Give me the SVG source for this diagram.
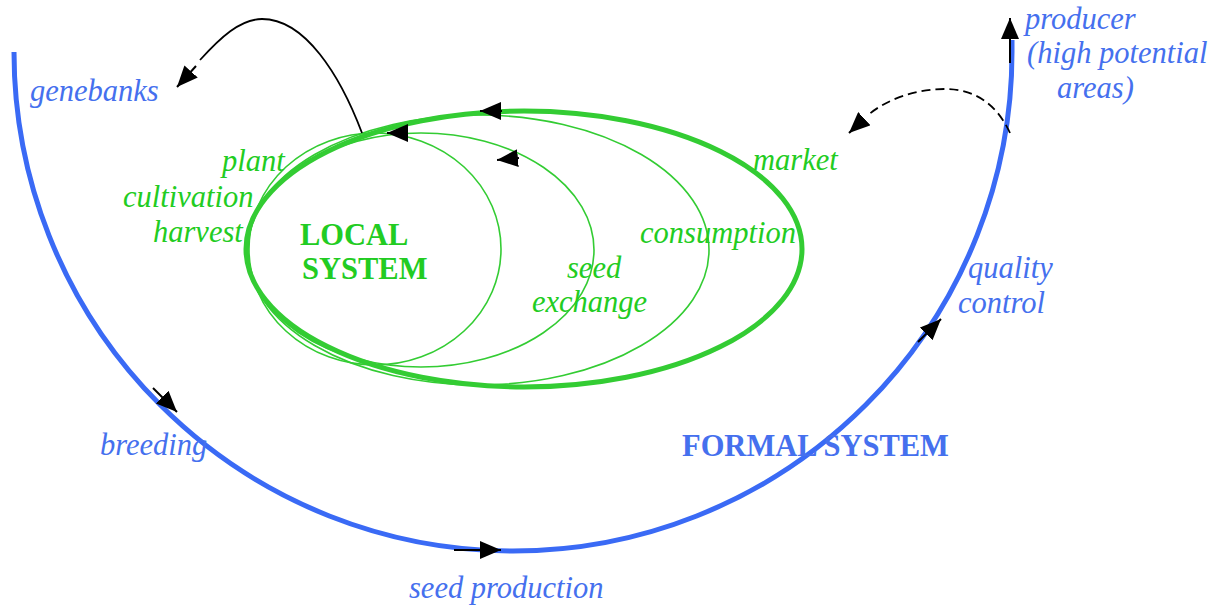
<svg xmlns="http://www.w3.org/2000/svg" width="1222" height="607" viewBox="0 0 1222 607">
  <style>
    .lbl { font-family: "Liberation Serif", "Times New Roman", serif; font-size: 30.5px; font-style: italic; }
    .ttl { font-family: "Liberation Serif", "Times New Roman", serif; font-size: 30.5px; font-weight: bold; }
    .blue { fill: #4570ee; }
    .green { fill: #22cc22; }
    .formal { fill: none; stroke: #3a6af5; stroke-width: 5; }
    .loop { fill: none; stroke: #33cc33; stroke-width: 1.6; }
    .loop-main { fill: none; stroke: #33cc33; stroke-width: 5; }
    .arr { fill: none; stroke: #000; stroke-width: 2; marker-end: url(#head); }
    .flow { fill: none; stroke: #000; stroke-width: 1.8; }
  </style>
  <defs>
    <marker id="head" viewBox="0 0 21 18" refX="21" refY="9" markerWidth="21" markerHeight="18" markerUnits="userSpaceOnUse" orient="auto">
      <path d="M0,0 L21,9 L0,18 z" fill="#000"/>
    </marker>
  </defs>

  <!-- formal system: large half ring -->
  <g id="formal-system">
    <path class="formal" d="M14,52 A499,499 0 0 0 1012,52 L1012,40"/>
    <text class="ttl blue" x="682" y="456">FORMAL SYSTEM</text>
  </g>

  <!-- local system: nested loops -->
  <g id="local-system">
    <ellipse class="loop" cx="375" cy="249" rx="126" ry="116"/>
    <ellipse class="loop" cx="421" cy="250" rx="173" ry="117"/>
    <ellipse class="loop" cx="478" cy="250" rx="231" ry="135"/>
    <ellipse class="loop-main" cx="524" cy="249" rx="278" ry="138"/>
    <text class="ttl green" x="300" y="245">LOCAL</text>
    <text class="ttl green" x="302" y="279">SYSTEM</text>
  </g>

  <g id="genebanks"><text class="lbl blue" x="30" y="101">genebanks</text></g>
  <g id="producer">
    <text class="lbl blue" x="1025" y="29">producer</text>
    <text class="lbl blue" x="1027" y="63">(high potential</text>
    <text class="lbl blue" x="1057" y="98">areas)</text>
  </g>
  <g id="quality-control">
    <text class="lbl blue" x="968" y="278">quality</text>
    <text class="lbl blue" x="958" y="313">control</text>
  </g>
  <g id="breeding"><text class="lbl blue" x="100" y="455">breeding</text></g>
  <g id="seed-production"><text class="lbl blue" x="409" y="598">seed production</text></g>

  <g id="plant"><text class="lbl green" x="222" y="171">plant</text></g>
  <g id="cultivation"><text class="lbl green" x="123" y="207">cultivation</text></g>
  <g id="harvest"><text class="lbl green" x="153" y="242">harvest</text></g>
  <g id="market"><text class="lbl green" x="753" y="170">market</text></g>
  <g id="consumption"><text class="lbl green" x="640" y="243">consumption</text></g>
  <g id="seed-exchange">
    <text class="lbl green" x="567" y="278">seed</text>
    <text class="lbl green" x="532" y="312">exchange</text>
  </g>

  <!-- connectors and direction marks -->
  <g id="connectors">
    <!-- direction along the formal ring -->
    <path class="arr" d="M153,388 L177,412"/>
    <path class="arr" d="M454,550 L501,550"/>
    <path class="arr" d="M918,342 L941,319"/>
    <path class="arr" d="M1010,63 L1010,18"/>
    <!-- direction along the local loops -->
    <path class="arr" d="M502,111 L480,111"/>
    <path class="arr" d="M408,133 L387,133"/>
    <path class="arr" d="M519,158 L497,160"/>
    <!-- local system to genebanks -->
    <path class="flow" d="M362,133 C340,75 305,19 262,19 C240,19 220,38 200,60"/>
    <path class="arr" d="M196,66 L177,87"/>
    <!-- formal system to market -->
    <path class="flow" d="M1010,133 C995,100 970,89 945,89 C915,89 885,100 867,116" stroke-dasharray="9 5"/>
    <path class="arr" d="M864,119 L849,133"/>
  </g>
</svg>
